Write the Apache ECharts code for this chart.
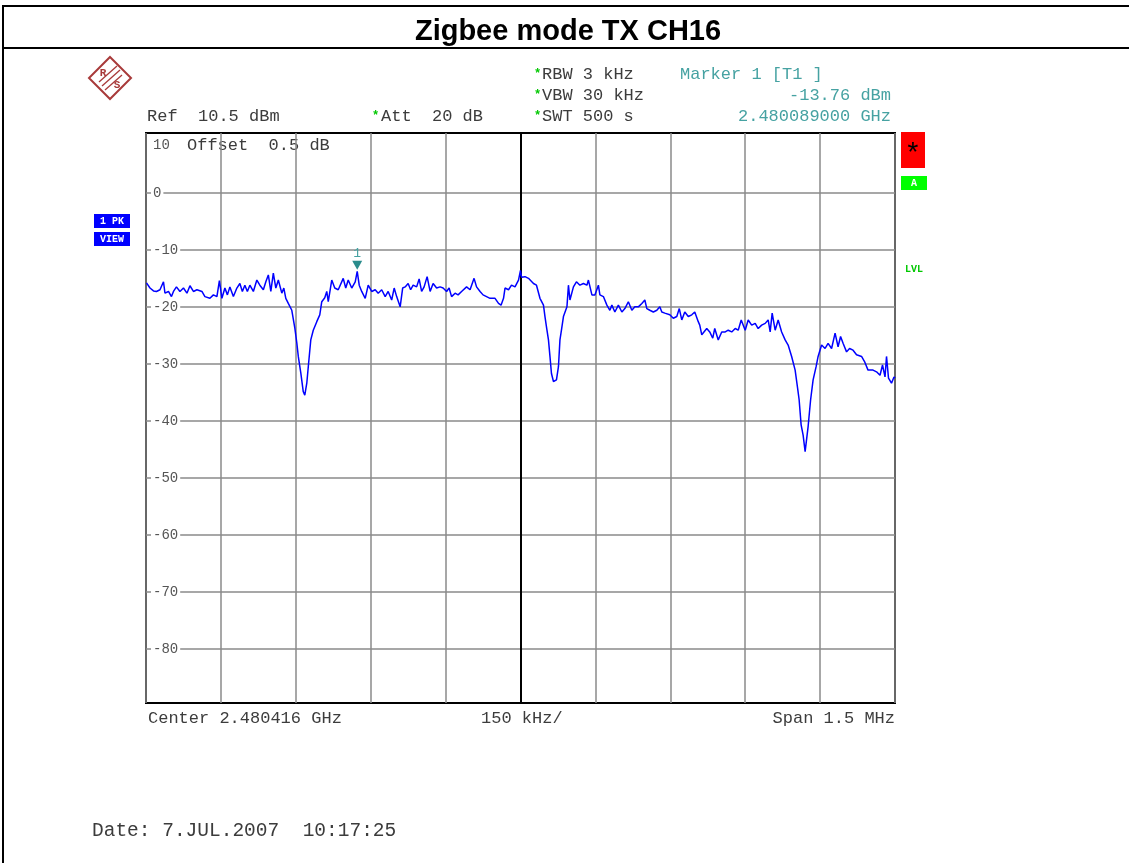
<!DOCTYPE html>
<html>
<head>
<meta charset="utf-8">
<script src="https://cdn.jsdelivr.net/npm/echarts@6/dist/echarts.min.js"></script>
<style>
  html, body { margin: 0; padding: 0; background: #fff; }
  #chart { width: 1129px; height: 863px; }
</style>
</head>
<body>
<div id="chart"></div>
<script>
// trace: [offset from start frequency in kHz, level in dBm]
const tracePoints = [
  [1, -15.8], [8, -16.7], [15, -17.2], [21, -17.3], [28, -17.0], [35, -15.6], [38, -17.6], [45, -17.3], [51, -18.2], [55, -17.3],
  [61, -16.5], [68, -17.3], [75, -16.7], [82, -17.6], [88, -16.3], [95, -17.3], [102, -17.0], [112, -17.3], [118, -18.2], [128, -18.5],
  [135, -17.9], [142, -18.2], [147, -15.4], [152, -18.5], [158, -16.7], [163, -17.9], [168, -16.5], [175, -18.2], [182, -16.7], [188, -15.9],
  [193, -17.3], [198, -16.2], [203, -17.3], [208, -16.2], [215, -17.3], [222, -15.3], [228, -16.2], [235, -17.0], [240, -15.6], [245, -14.4],
  [250, -17.3], [255, -14.1], [260, -16.7], [265, -15.3], [272, -17.6], [276, -16.7], [280, -18.5], [285, -19.4], [292, -20.6], [298, -23.7],
  [302, -26.3], [305, -28.7], [310, -31.6], [315, -34.9], [318, -35.5], [322, -33.4], [325, -30.5], [330, -25.8], [335, -24.1], [342, -22.6],
  [348, -21.4], [352, -19.1], [358, -18.4], [362, -17.3], [365, -19.1], [372, -15.3], [378, -16.7], [385, -17.0], [395, -15.0], [400, -16.7],
  [405, -15.3], [412, -16.7], [419, -15.6], [423, -13.76], [427, -16.2], [432, -17.3], [439, -18.5], [445, -16.2], [452, -17.3], [459, -17.0],
  [465, -17.6], [472, -17.0], [479, -18.2], [485, -17.3], [492, -18.8], [497, -16.7], [502, -18.2], [509, -20.0], [514, -16.7], [519, -16.5],
  [525, -15.9], [530, -17.0], [535, -16.2], [542, -16.5], [547, -15.1], [552, -17.3], [557, -16.5], [563, -14.7], [569, -17.3], [575, -15.9],
  [582, -16.7], [589, -16.5], [595, -16.7], [602, -17.3], [607, -16.7], [612, -18.2], [619, -17.6], [625, -17.9], [632, -17.3], [642, -16.5],
  [649, -17.0], [657, -15.0], [662, -16.5], [669, -17.3], [675, -17.9], [682, -18.2], [689, -18.5], [699, -18.5], [706, -19.4], [711, -19.7],
  [716, -18.5], [719, -16.7], [726, -17.0], [732, -16.2], [739, -16.5], [746, -15.3], [750, -13.6], [752, -14.8], [759, -14.7], [766, -15.0],
  [769, -15.3], [776, -15.9], [782, -16.2], [786, -15.9], [789, -18.5], [796, -19.7], [799, -21.7], [802, -23.5], [806, -25.8], [809, -28.7],
  [812, -31.7], [816, -33.1], [822, -32.8], [826, -30.5], [829, -25.8], [832, -24.1], [836, -21.7], [843, -20.0], [846, -16.2], [849, -18.8],
  [856, -16.5], [862, -15.6], [869, -16.2], [876, -15.9], [883, -16.2], [886, -15.3], [893, -17.9], [899, -17.9], [906, -16.2], [909, -17.9],
  [916, -18.2], [923, -19.7], [929, -20.6], [933, -19.7], [939, -20.9], [946, -19.7], [953, -20.9], [959, -20.3], [966, -19.1], [973, -20.6],
  [979, -20.0], [986, -20.0], [993, -19.4], [999, -18.8], [1003, -20.3], [1009, -20.6], [1016, -20.9], [1023, -20.6], [1029, -20.0], [1033, -20.9],
  [1039, -21.1], [1049, -21.4], [1056, -22.0], [1063, -21.7], [1068, -20.3], [1073, -22.3], [1079, -20.9], [1086, -21.7], [1093, -21.4], [1099, -20.9],
  [1106, -22.6], [1109, -23.2], [1113, -24.9], [1116, -24.6], [1123, -23.8], [1129, -24.4], [1135, -25.5], [1139, -23.8], [1146, -25.8], [1153, -24.4],
  [1160, -24.4], [1166, -24.1], [1173, -24.4], [1180, -23.8], [1186, -24.1], [1192, -22.3], [1200, -24.1], [1206, -22.3], [1213, -23.2], [1220, -22.9],
  [1226, -23.8], [1233, -23.2], [1240, -22.9], [1246, -22.3], [1250, -24.4], [1254, -21.1], [1260, -24.1], [1266, -22.3], [1273, -24.4], [1280, -25.8],
  [1286, -26.7], [1293, -28.7], [1300, -31.1], [1305, -34.3], [1308, -36.3], [1312, -40.7], [1316, -42.5], [1320, -45.4], [1323, -45.1], [1326, -41.0],
  [1331, -36.3], [1336, -32.8], [1342, -30.5], [1346, -28.7], [1353, -26.7], [1360, -27.3], [1366, -26.4], [1373, -27.3], [1380, -24.6], [1386, -27.0],
  [1391, -25.2], [1396, -26.4], [1403, -27.9], [1409, -27.3], [1416, -27.6], [1423, -28.4], [1433, -28.7], [1439, -29.6], [1446, -31.1], [1456, -31.1],
  [1463, -31.4], [1470, -32.0], [1475, -30.2], [1480, -32.3], [1483, -28.7], [1487, -32.5], [1493, -33.4], [1498, -32.3], [1500, -32.5]
]

const gridLevels = [0, -10, -20, -30, -40, -50, -60, -70, -80]
const markerPoint = [423, -13.76]
const refLevel = 10.5
const spanKHz = 1500
const divKHz = 150

const mono = 'Liberation Mono, Courier New, monospace'
const ink = '#3c3c3c'
const teal = '#46a2a2'
const green = '#00c800'
const logoRed = '#a83a3a'

const chart = echarts.init(document.getElementById('chart'))

function txt (x, y, text, opts) {
  return {
    type: 'text',
    x: x,
    y: y,
    style: Object.assign({
      text: text,
      font: '17px ' + mono,
      fill: ink,
      align: 'left',
      verticalAlign: 'middle'
    }, opts || {})
  }
}

function hline (x1, x2, y) {
  return { type: 'line', shape: { x1: x1, y1: y, x2: x2, y2: y }, style: { stroke: '#000', lineWidth: 2 } }
}

const graphics = [
  // frame and title
  hline(3, 1129, 6),
  hline(3, 1129, 48),
  { type: 'line', shape: { x1: 3, y1: 5, x2: 3, y2: 863 }, style: { stroke: '#000', lineWidth: 2 } },
  txt(568, 32, 'Zigbee mode TX CH16', { font: 'bold 29px Liberation Sans, Arial, sans-serif', fill: '#000', align: 'center' }),

  // R&S logo
  { type: 'polygon', shape: { points: [[110, 57], [131, 78], [110, 99], [89, 78]] }, style: { fill: 'none', stroke: logoRed, lineWidth: 2 } },
  txt(103, 73, 'R', { font: 'bold 11px ' + mono, fill: logoRed, align: 'center' }),
  txt(117, 85, 'S', { font: 'bold 11px ' + mono, fill: logoRed, align: 'center' }),
  { type: 'line', shape: { x1: 99, y1: 82, x2: 117, y2: 66 }, style: { stroke: logoRed, lineWidth: 1.3 } },
  { type: 'line', shape: { x1: 102, y1: 86, x2: 120, y2: 70 }, style: { stroke: logoRed, lineWidth: 1.3 } },
  { type: 'line', shape: { x1: 105, y1: 90, x2: 122, y2: 75 }, style: { stroke: logoRed, lineWidth: 1.3 } },

  // settings
  txt(534, 74, '*', { font: 'bold 12px ' + mono, fill: green }),
  txt(542, 74, 'RBW 3 kHz'),
  txt(680, 74, 'Marker 1 [T1 ]', { fill: teal }),
  txt(534, 95, '*', { font: 'bold 12px ' + mono, fill: green }),
  txt(542, 95, 'VBW 30 kHz'),
  txt(891, 95, '-13.76 dBm', { fill: teal, align: 'right' }),
  txt(147, 116, 'Ref  10.5 dBm'),
  txt(372, 116, '*', { font: 'bold 12px ' + mono, fill: green }),
  txt(381, 116, 'Att  20 dB'),
  txt(534, 116, '*', { font: 'bold 12px ' + mono, fill: green }),
  txt(542, 116, 'SWT 500 s'),
  txt(891, 116, '2.480089000 GHz', { fill: teal, align: 'right' }),

  // inside top of screen
  txt(153, 145, '10', { font: '14px ' + mono, fill: '#555' }),
  txt(187, 145, 'Offset  0.5 dB'),

  // side annotations
  { type: 'rect', shape: { x: 94, y: 214, width: 36, height: 14 }, style: { fill: '#0000ff' } },
  txt(112, 221, '1 PK', { font: 'bold 10px ' + mono, fill: '#fff', align: 'center' }),
  { type: 'rect', shape: { x: 94, y: 232, width: 36, height: 14 }, style: { fill: '#0000ff' } },
  txt(112, 239, 'VIEW', { font: 'bold 10px ' + mono, fill: '#fff', align: 'center' }),
  { type: 'rect', shape: { x: 901, y: 132, width: 24, height: 36 }, style: { fill: '#ff0000' } },
  txt(913, 155, '*', { font: '28px ' + mono, fill: '#000', align: 'center' }),
  { type: 'rect', shape: { x: 901, y: 176, width: 26, height: 14 }, style: { fill: '#00ff00' } },
  txt(914, 183, 'A', { font: 'bold 10px ' + mono, fill: '#fff', align: 'center' }),
  txt(914, 269, 'LVL', { font: 'bold 10px ' + mono, fill: green, align: 'center' }),

  // footer
  txt(148, 718, 'Center 2.480416 GHz'),
  txt(481, 718, divKHz + ' kHz/'),
  txt(895, 718, 'Span 1.5 MHz', { align: 'right' }),
  txt(92, 831, 'Date: 7.JUL.2007  10:17:25', { font: '19.5px ' + mono })
]

const option = {
  animation: false,
  backgroundColor: '#fff',
  grid: {
    left: 146, top: 133, width: 749, height: 570,
    show: true, borderColor: '#000', borderWidth: 2, backgroundColor: 'transparent'
  },
  xAxis: {
    type: 'value', min: 0, max: spanKHz, interval: divKHz,
    axisLine: { show: false }, axisTick: { show: false }, axisLabel: { show: false },
    splitLine: { lineStyle: { color: '#8a8a8a', width: 1.5 } }
  },
  yAxis: {
    type: 'value', min: refLevel - 100, max: refLevel,
    axisLine: { show: false }, axisTick: { show: false }, axisLabel: { show: false },
    splitLine: { show: false }
  },
  series: [{
    type: 'line',
    data: tracePoints,
    symbol: 'none',
    lineStyle: { color: '#0000ff', width: 1.5 },
    z: 5,
    markLine: {
      silent: true,
      symbol: 'none',
      label: { show: false },
      data: gridLevels.map(v => ({ yAxis: v, lineStyle: { color: '#8a8a8a', width: 1.5, type: 'solid' } }))
        .concat([{ xAxis: spanKHz / 2, lineStyle: { color: '#000', width: 2, type: 'solid' } }])
    },
    markPoint: {
      silent: true,
      symbol: 'triangle',
      symbolRotate: 180,
      symbolSize: [10, 9],
      symbolOffset: [0, -6],
      itemStyle: { color: '#2a8c8c' },
      label: { show: true, position: 'top', formatter: '1', color: teal, fontFamily: mono, fontSize: 13, distance: 1 },
      data: [{ coord: markerPoint }]
    }
  }],
  graphic: graphics
}

chart.setOption(option)

// level labels sit on their gridline, with a gap cut into the line
const labelGraphics = gridLevels.map(v => {
  const y = chart.convertToPixel({ gridIndex: 0 }, [0, v])[1]
  const s = String(v)
  const w = s.length * 8.4 + 4
  return {
    type: 'group',
    children: [
      { type: 'rect', shape: { x: 151, y: y - 4, width: w, height: 8 }, style: { fill: '#fff' }, z: 10 },
      { type: 'text', x: 153, y: y, z: 11, style: { text: s, font: '14px ' + mono, fill: '#555', align: 'left', verticalAlign: 'middle' } }
    ]
  }
})
chart.setOption({ graphic: graphics.concat(labelGraphics) })
</script>
</body>
</html>
